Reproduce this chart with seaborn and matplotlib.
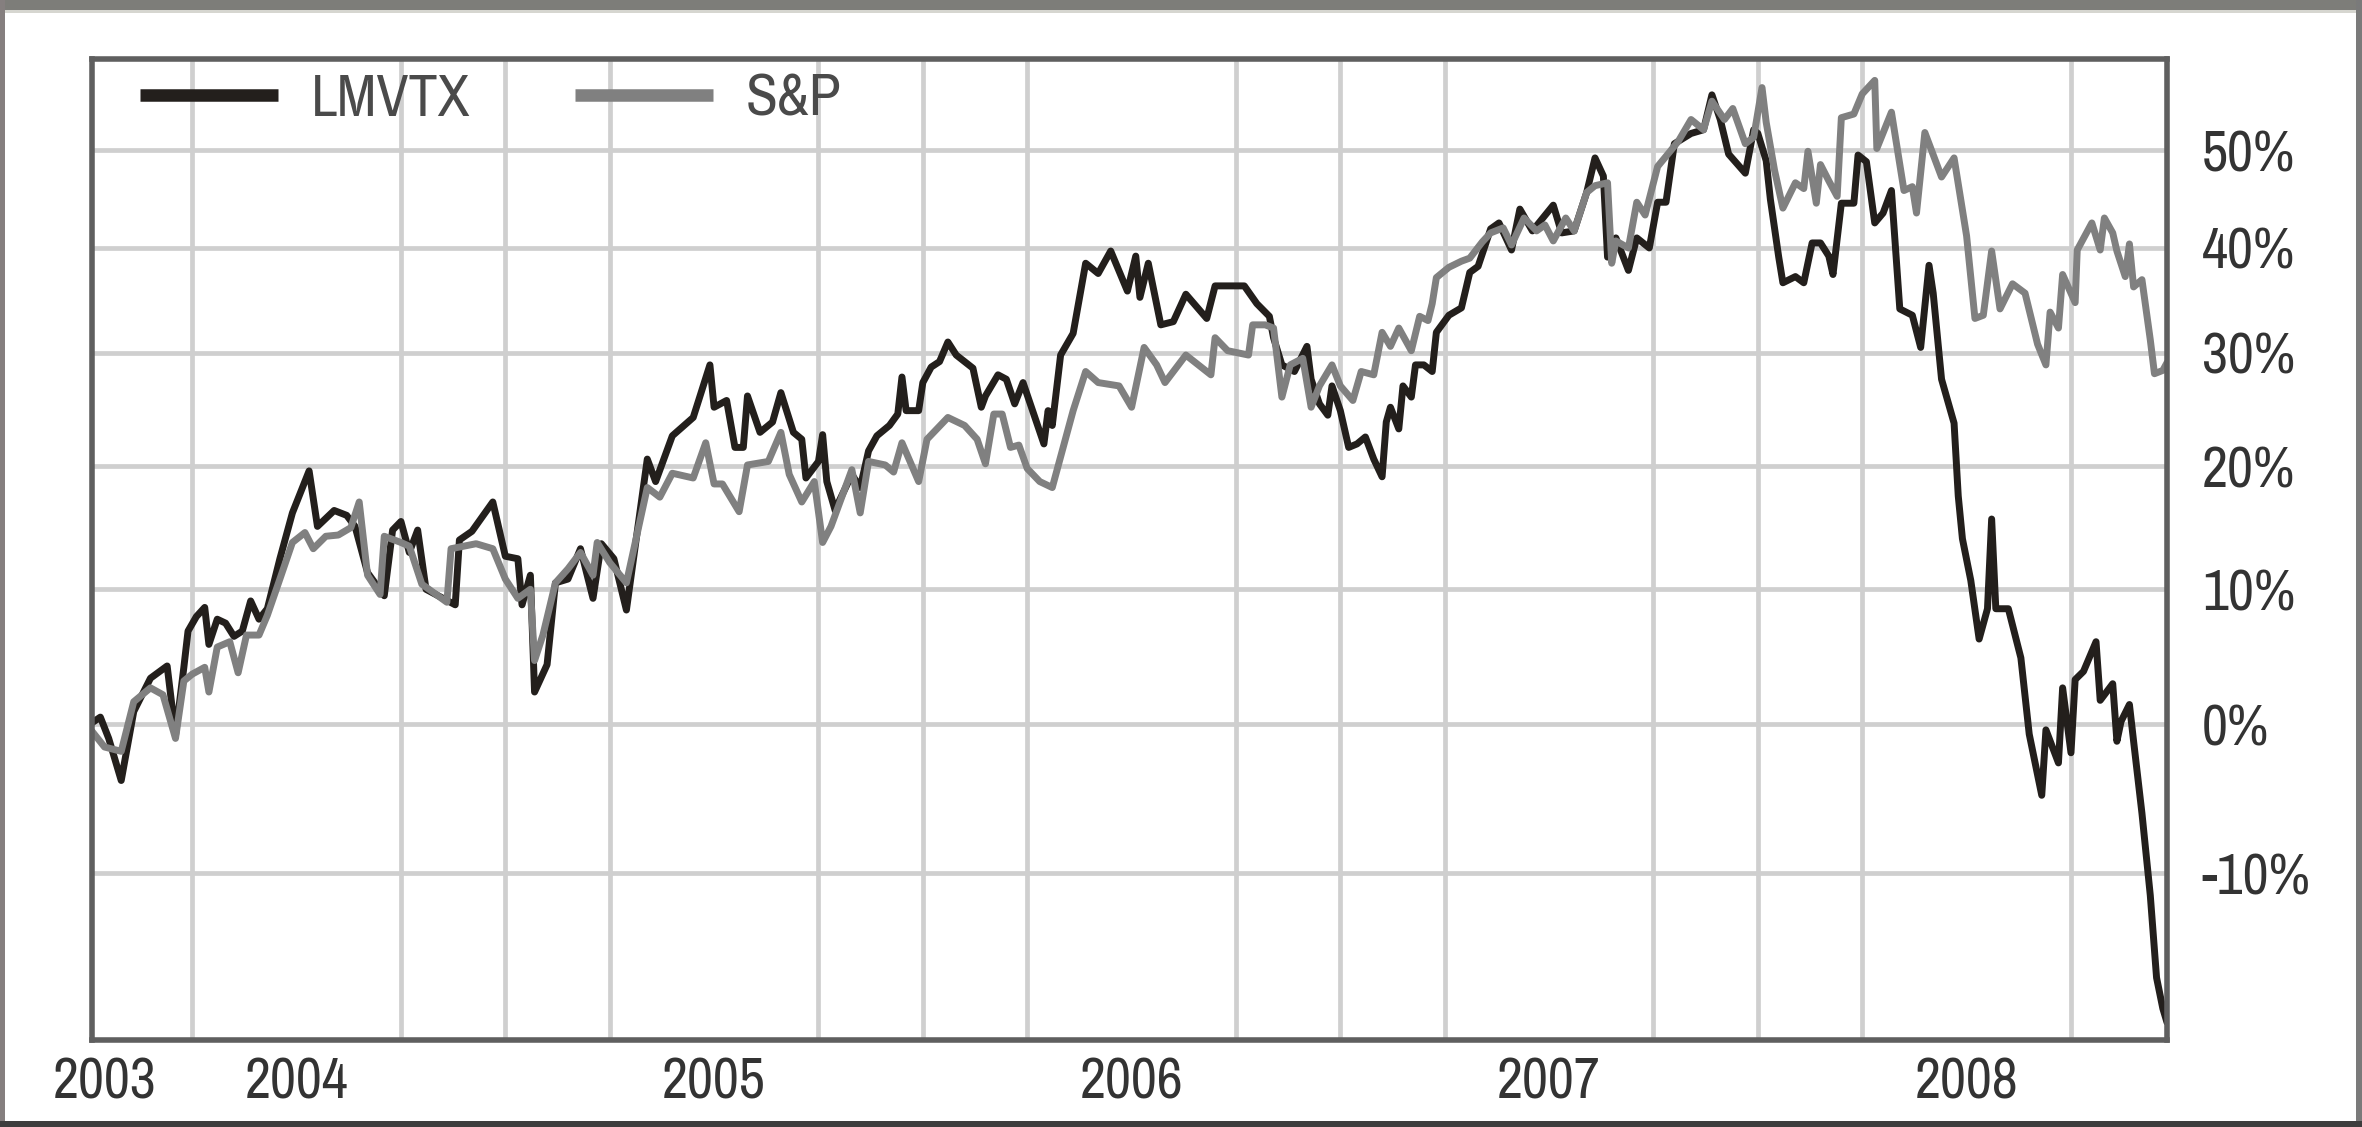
import numpy as np
import pandas as pd
import matplotlib
matplotlib.use("Agg")
import matplotlib.pyplot as plt
import seaborn as sns
from matplotlib.ticker import FixedLocator, FixedFormatter, NullFormatter
from matplotlib.lines import Line2D
from matplotlib.patches import Rectangle

# ---------------- data ----------------
lmvtx_years = [
    2003.51, 2003.53, 2003.55, 2003.58, 2003.61, 2003.65, 2003.69, 2003.71, 2003.73, 2003.74,
    2003.76, 2003.78, 2003.79, 2003.81, 2003.83, 2003.85, 2003.87, 2003.89, 2003.91, 2003.93,
    2003.96, 2003.99, 2004.03, 2004.05, 2004.09, 2004.12, 2004.14, 2004.17, 2004.21, 2004.23,
    2004.25, 2004.27, 2004.29, 2004.31, 2004.38, 2004.39, 2004.42, 2004.47, 2004.50, 2004.53,
    2004.54, 2004.56, 2004.57, 2004.60, 2004.62, 2004.65, 2004.68, 2004.71, 2004.73, 2004.76,
    2004.79, 2004.84, 2004.86, 2004.90, 2004.95, 2004.99, 2005.00, 2005.03, 2005.05, 2005.07,
    2005.08, 2005.11, 2005.14, 2005.16, 2005.19, 2005.21, 2005.22, 2005.25, 2005.26, 2005.27,
    2005.29, 2005.30, 2005.33, 2005.35, 2005.37, 2005.39, 2005.42, 2005.44, 2005.45, 2005.46,
    2005.49, 2005.50, 2005.52, 2005.54, 2005.56, 2005.58, 2005.62, 2005.64, 2005.65, 2005.68,
    2005.70, 2005.72, 2005.74, 2005.76, 2005.79, 2005.80, 2005.81, 2005.83, 2005.86, 2005.89,
    2005.92, 2005.95, 2005.99, 2006.01, 2006.02, 2006.04, 2006.07, 2006.10, 2006.13, 2006.18,
    2006.20, 2006.27, 2006.30, 2006.33, 2006.34, 2006.36, 2006.39, 2006.42, 2006.43, 2006.45,
    2006.47, 2006.48, 2006.50, 2006.52, 2006.54, 2006.56, 2006.58, 2006.60, 2006.61, 2006.62,
    2006.64, 2006.65, 2006.67, 2006.68, 2006.70, 2006.72, 2006.73, 2006.76, 2006.79, 2006.81,
    2006.83, 2006.86, 2006.88, 2006.91, 2006.93, 2006.96, 2007.01, 2007.03, 2007.06, 2007.09,
    2007.11, 2007.13, 2007.14, 2007.16, 2007.19, 2007.21, 2007.24, 2007.26, 2007.28, 2007.30,
    2007.34, 2007.37, 2007.39, 2007.41, 2007.43, 2007.45, 2007.47, 2007.49, 2007.50, 2007.52,
    2007.53, 2007.55, 2007.56, 2007.59, 2007.61, 2007.63, 2007.65, 2007.67, 2007.68, 2007.70,
    2007.73, 2007.74, 2007.76, 2007.78, 2007.80, 2007.82, 2007.84, 2007.87, 2007.89, 2007.91,
    2007.92, 2007.94, 2007.97, 2007.98, 2007.99, 2008.01, 2008.03, 2008.05, 2008.06, 2008.07,
    2008.10, 2008.13, 2008.15, 2008.18, 2008.19, 2008.22, 2008.23, 2008.25, 2008.26, 2008.28,
    2008.31, 2008.32, 2008.35, 2008.36, 2008.37, 2008.39, 2008.40, 2008.42, 2008.44, 2008.455,
    2008.47, 2008.48,
]
lmvtx_pct = [
    0.1, 0.5, -1.0, -3.9, 0.9, 3.3, 4.2, -0.8, 4.1, 6.8,
    7.9, 8.6, 5.8, 7.7, 7.4, 6.4, 6.8, 9.1, 7.7, 8.5,
    12.4, 16.1, 19.6, 15.0, 16.3, 15.9, 15.0, 11.3, 9.5, 14.7,
    15.4, 12.9, 14.7, 10.0, 8.8, 13.9, 14.6, 17.0, 12.6, 12.4,
    8.8, 11.1, 2.3, 4.3, 10.5, 10.8, 13.2, 9.3, 13.6, 12.4,
    8.4, 20.6, 18.7, 22.6, 24.2, 28.9, 25.1, 25.7, 21.6, 21.6,
    26.1, 22.9, 23.8, 26.4, 22.9, 22.3, 19.0, 20.4, 22.7, 18.7,
    16.3, 17.1, 19.3, 18.2, 21.3, 22.6, 23.5, 24.5, 27.8, 24.8,
    24.8, 27.3, 28.7, 29.2, 31.0, 29.8, 28.6, 25.1, 26.1, 28.0,
    27.6, 25.4, 27.3, 25.1, 21.9, 24.8, 23.5, 29.8, 31.8, 38.5,
    37.5, 39.7, 35.8, 39.2, 35.2, 38.5, 32.6, 32.9, 35.5, 33.2,
    36.3, 36.3, 34.6, 33.4, 31.4, 28.9, 28.3, 30.6, 27.6, 25.4,
    24.4, 27.0, 24.8, 21.6, 21.9, 22.5, 20.6, 19.1, 23.8, 25.1,
    23.2, 27.0, 26.0, 28.9, 28.9, 28.3, 31.9, 33.5, 34.2, 37.6,
    38.2, 41.9, 42.5, 39.8, 43.9, 41.7, 44.3, 41.5, 41.7, 45.6,
    49.2, 47.3, 39.1, 41.0, 37.8, 41.0, 40.0, 44.6, 44.6, 50.7,
    51.8, 52.2, 56.0, 53.3, 49.6, 48.6, 47.6, 52.2, 51.8, 48.9,
    44.9, 39.1, 36.6, 37.2, 36.6, 40.5, 40.5, 39.2, 37.4, 44.5,
    44.5, 49.5, 48.8, 42.5, 43.5, 45.8, 34.1, 33.5, 30.5, 38.3,
    35.6, 27.6, 23.7, 17.5, 14.0, 10.7, 6.2, 8.5, 15.6, 8.5,
    8.5, 4.8, -0.7, -4.9, -0.4, -2.7, 2.6, -2.0, 3.2, 3.8,
    6.0, 1.7, 2.9, -1.2, 0.2, 1.4, -1.2, -6.1, -11.4, -16.4,
    -18.2, -19.0,
]

sp_years = [
    2003.51, 2003.54, 2003.58, 2003.61, 2003.65, 2003.68, 2003.71, 2003.73, 2003.75, 2003.78,
    2003.79, 2003.81, 2003.84, 2003.86, 2003.88, 2003.91, 2003.93, 2003.96, 2003.99, 2004.02,
    2004.04, 2004.07, 2004.10, 2004.13, 2004.15, 2004.17, 2004.20, 2004.21, 2004.25, 2004.27,
    2004.30, 2004.36, 2004.37, 2004.43, 2004.47, 2004.50, 2004.53, 2004.56, 2004.57, 2004.59,
    2004.62, 2004.65, 2004.68, 2004.71, 2004.72, 2004.75, 2004.79, 2004.84, 2004.87, 2004.90,
    2004.95, 2004.98, 2005.00, 2005.02, 2005.06, 2005.08, 2005.13, 2005.16, 2005.18, 2005.21,
    2005.24, 2005.26, 2005.28, 2005.33, 2005.35, 2005.37, 2005.41, 2005.43, 2005.45, 2005.49,
    2005.51, 2005.56, 2005.60, 2005.63, 2005.65, 2005.67, 2005.69, 2005.71, 2005.73, 2005.75,
    2005.78, 2005.81, 2005.83, 2005.86, 2005.89, 2005.92, 2005.97, 2006.00, 2006.03, 2006.06,
    2006.08, 2006.13, 2006.19, 2006.20, 2006.23, 2006.28, 2006.29, 2006.32, 2006.34, 2006.36,
    2006.38, 2006.41, 2006.43, 2006.45, 2006.48, 2006.50, 2006.53, 2006.55, 2006.58, 2006.60,
    2006.62, 2006.64, 2006.67, 2006.69, 2006.71, 2006.72, 2006.73, 2006.76, 2006.79, 2006.81,
    2006.84, 2006.86, 2006.89, 2006.91, 2006.94, 2006.97, 2006.99, 2007.01, 2007.04, 2007.06,
    2007.09, 2007.11, 2007.14, 2007.15, 2007.16, 2007.19, 2007.21, 2007.23, 2007.26, 2007.29,
    2007.31, 2007.34, 2007.37, 2007.39, 2007.42, 2007.44, 2007.47, 2007.49, 2007.51, 2007.52,
    2007.54, 2007.56, 2007.59, 2007.61, 2007.62, 2007.64, 2007.65, 2007.67, 2007.69, 2007.70,
    2007.73, 2007.75, 2007.78, 2007.785, 2007.82, 2007.85, 2007.87, 2007.88, 2007.90, 2007.94,
    2007.97, 2008.00, 2008.02, 2008.04, 2008.06, 2008.08, 2008.11, 2008.14, 2008.17, 2008.19,
    2008.20, 2008.22, 2008.23, 2008.26, 2008.265, 2008.30, 2008.32, 2008.33, 2008.35, 2008.36,
    2008.38, 2008.39, 2008.40, 2008.42, 2008.44, 2008.45, 2008.47, 2008.48,
]
sp_pct = [
    -0.5, -1.6, -1.9, 1.6, 2.6, 2.1, -1.0, 3.1, 3.6, 4.1,
    2.3, 5.6, 6.0, 3.7, 6.5, 6.5, 8.0, 10.8, 13.7, 14.5,
    13.2, 14.2, 14.3, 14.9, 17.0, 11.1, 9.6, 14.2, 13.7, 13.4,
    10.4, 9.0, 13.2, 13.6, 13.2, 10.8, 9.3, 10.0, 4.6, 6.5,
    10.5, 11.6, 12.9, 11.1, 13.7, 12.1, 10.5, 18.2, 17.4, 19.4,
    19.0, 22.0, 18.5, 18.5, 16.2, 20.1, 20.4, 22.9, 19.3, 17.0,
    18.7, 13.7, 15.0, 19.7, 16.1, 20.4, 20.1, 19.5, 22.0, 18.7,
    22.3, 24.2, 23.5, 22.3, 20.2, 24.5, 24.5, 21.6, 21.8, 19.8,
    18.7, 18.2, 20.8, 24.8, 28.3, 27.3, 27.0, 25.1, 30.5, 28.9,
    27.3, 29.8, 28.0, 31.4, 30.2, 29.8, 32.6, 32.6, 32.3, 26.0,
    28.9, 29.5, 25.1, 27.0, 28.9, 27.0, 25.7, 28.3, 28.0, 31.9,
    30.6, 32.3, 30.2, 33.4, 33.0, 34.6, 37.1, 38.1, 38.7, 39.0,
    40.6, 41.5, 42.0, 40.3, 43.0, 41.7, 42.3, 40.7, 43.0, 41.7,
    45.6, 46.3, 46.6, 38.5, 40.7, 40.0, 44.6, 43.3, 48.3, 49.9,
    51.0, 53.3, 52.2, 55.3, 53.3, 54.5, 50.7, 51.4, 56.8, 53.0,
    47.9, 44.0, 46.6, 46.0, 49.9, 44.5, 48.5, 46.8, 45.2, 53.5,
    53.9, 56.1, 57.6, 50.2, 54.1, 45.8, 46.2, 43.5, 51.9, 47.2,
    49.2, 41.2, 33.2, 33.5, 39.7, 34.1, 36.5, 35.6, 30.8, 28.9,
    33.8, 32.3, 37.4, 34.7, 39.8, 42.5, 39.8, 43.0, 41.5, 39.7,
    37.2, 40.4, 36.2, 36.9, 31.2, 28.1, 28.4, 29.1,
]

series_names = ["LMVTX", "S&P"]
x_tick_positions = [2003.54, 2004, 2005, 2006, 2007, 2008]
x_tick_labels = ["2003", "2004", "2005", "2006", "2007", "2008"]
quarter_grid = [2003.75, 2004.0, 2004.25, 2004.5, 2004.75, 2005.0, 2005.25, 2005.5, 2005.75,
                2006.0, 2006.25, 2006.5, 2006.75, 2007.0, 2007.25, 2007.5, 2007.75,
                2008.0, 2008.25]
y_ticks = [-10, 0, 10, 20, 30, 40, 50]
y_tick_labels = ["-10%", "0%", "10%", "20%", "30%", "40%", "50%"]

# ---------------- styling ----------------
W, H, DPI = 2362, 1127, 100
sns.set_theme(style="white")
plt.rcParams["font.family"] = ["Archivo Narrow", "Roboto Condensed", "Liberation Sans",
                               "DejaVu Sans"]

BLACK = "#231f1c"
GRAY = "#808080"
GRID = "#cfcfcf"
SPINE = "#5f5f5f"
TEXT = "#333333"
TICK_FS = 41
LEG_FS = 42

df = pd.concat([
    pd.DataFrame({"year": lmvtx_years, "pct": lmvtx_pct, "series": series_names[0]}),
    pd.DataFrame({"year": sp_years, "pct": sp_pct, "series": series_names[1]}),
], ignore_index=True)

fig = plt.figure(figsize=(W / DPI, H / DPI), dpi=DPI)
fig.patch.set_facecolor("white")
ax = fig.add_axes([92 / W, (H - 1040) / H, (2167 - 92) / W, (1040 - 59) / H])
ax.set_facecolor("white")


def fwd(y):
    return np.log1p(np.asarray(y, dtype=float) / 100.0)


def inv(z):
    return 100.0 * np.expm1(np.asarray(z, dtype=float))


ax.set_yscale("function", functions=(fwd, inv))

sns.lineplot(data=df[df.series == series_names[0]], x="year", y="pct", color=BLACK,
             linewidth=5.0, estimator=None, sort=False, ax=ax, legend=False)
sns.lineplot(data=df[df.series == series_names[1]], x="year", y="pct", color=GRAY,
             linewidth=5.0, estimator=None, sort=False, ax=ax, legend=False)

ax.set_xlim(2003.51, 2008.48)
ax.set_ylim(-20, 60)

ax.xaxis.set_major_locator(FixedLocator(x_tick_positions))
ax.xaxis.set_major_formatter(FixedFormatter(x_tick_labels))
ax.xaxis.set_minor_locator(FixedLocator(quarter_grid))
ax.xaxis.set_minor_formatter(NullFormatter())
ax.tick_params(axis="x", which="both", length=0, pad=12, labelsize=TICK_FS, labelcolor=TEXT)

ax.yaxis.tick_right()
ax.yaxis.set_major_locator(FixedLocator(y_ticks))
ax.yaxis.set_major_formatter(FixedFormatter(y_tick_labels))
ax.yaxis.set_minor_locator(FixedLocator([]))
ax.tick_params(axis="y", which="both", length=0, pad=25, labelsize=TICK_FS, labelcolor=TEXT)
for lab in ax.get_yticklabels():
    lab.set_horizontalalignment("left")

ax.grid(False)
ax.xaxis.grid(True, which="minor", color=GRID, linewidth=3.4)
ax.yaxis.grid(True, which="major", color=GRID, linewidth=3.4)
ax.set_axisbelow(True)
ax.set_xlabel("")
ax.set_ylabel("")

for sp in ax.spines.values():
    sp.set_visible(True)
    sp.set_color(SPINE)
    sp.set_linewidth(4.0)

handles = [Line2D([], [], color=BLACK, linewidth=9, solid_capstyle="butt"),
           Line2D([], [], color=GRAY, linewidth=9, solid_capstyle="butt")]
leg = ax.legend(handles, series_names, loc="center left", bbox_to_anchor=(0.0232, 0.959),
                ncol=2, frameon=False, handlelength=2.37, handletextpad=0.55,
                columnspacing=1.8, borderpad=0, borderaxespad=0, fontsize=LEG_FS)
for t in leg.get_texts():
    t.set_color("#4a4a4a")

# outer picture frame
fig.add_artist(Rectangle((0, 1 - 10 / H), 1, 10 / H, transform=fig.transFigure,
                         facecolor="#7d7d79", edgecolor="none"))
fig.add_artist(Rectangle((0, 1 - 13 / H), 1, 3 / H, transform=fig.transFigure,
                         facecolor="#d6d6d0", edgecolor="none"))
fig.add_artist(Rectangle((0, 0), 5 / W, 1, transform=fig.transFigure,
                         facecolor="#857f7f", edgecolor="none"))
fig.add_artist(Rectangle((1 - 6 / W, 0), 6 / W, 1, transform=fig.transFigure,
                         facecolor="#7a7a7a", edgecolor="none"))
fig.add_artist(Rectangle((0, 0), 1, 6 / H, transform=fig.transFigure,
                         facecolor="#3d3d3d", edgecolor="none"))

fig.savefig("out.png", dpi=DPI, facecolor="white")
